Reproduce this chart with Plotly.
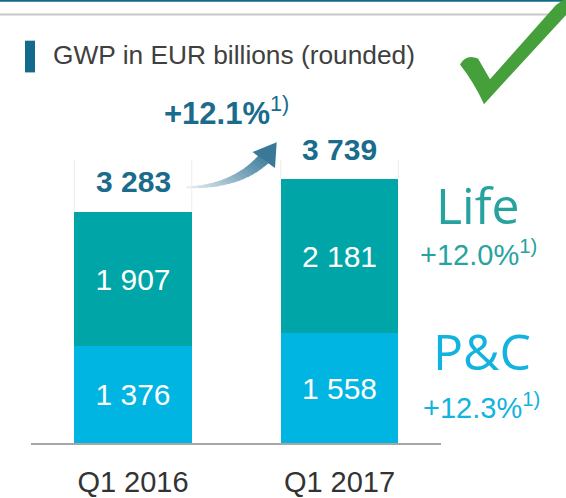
import plotly.graph_objects as go

# ---------------- data ----------------
categories = ["Q1 2016", "Q1 2017"]
series_names = ["P&C", "Life"]
pc_values = [1376, 1558]
life_values = [1907, 2181]
totals = [p + l for p, l in zip(pc_values, life_values)]
growth_total = "+12.1%"
growth_life = "+12.0%"
growth_pc = "+12.3%"
footnote = "1)"
title_text = "GWP in EUR billions (rounded)"

# ---------------- style ----------------
W, H = 566, 498
C_LIFE = "#00a6a7"
C_PC = "#00b5e1"
C_LIFE_TXT = "#27a39f"
C_PC_TXT = "#12b3df"
C_DARK = "#1a6b8c"
C_ACCENT = "#136a8a"
C_TITLE = "#404040"
C_GREEN = "#45a03b"
FONT = "Arial, Liberation Sans, sans-serif"
FONT_LIGHT = "Open Sans, Noto Sans, sans-serif"


def fmt(v):
    return f"{v:,}".replace(",", " ")


def px(x):
    return x / W


def py(y):
    return 1 - y / H


def path(points, close=True):
    s = "M " + " L ".join(f"{px(x):.5f},{py(y):.5f}" for x, y in points)
    return s + (" Z" if close else "")


# pixel geometry of plot area
axis_left, axis_right = 31, 441
cat_px = [133, 339.5]
unit_px = cat_px[1] - cat_px[0]
bar_px = 117.5
base_px = 447
px_per_val = 0.0712

x_range = [(axis_left - cat_px[0]) / unit_px, (axis_right - cat_px[0]) / unit_px]
bar_width = bar_px / unit_px
y_top = base_px / px_per_val

fig = go.Figure()
fig.add_trace(go.Bar(
    x=categories, y=pc_values, name=series_names[0],
    marker=dict(color=C_PC, line=dict(width=0)), width=bar_width,
    texttemplate="%{y:,}", textposition="inside", insidetextanchor="middle",
    textangle=0, textfont=dict(family=FONT, size=30, color="white"),
    hoverinfo="skip",
))
fig.add_trace(go.Bar(
    x=categories, y=life_values, name=series_names[1],
    marker=dict(color=C_LIFE, line=dict(width=0)), width=bar_width,
    texttemplate="%{y:,}", textposition="inside", insidetextanchor="middle",
    textangle=0, textfont=dict(family=FONT, size=30, color="white"),
    hoverinfo="skip",
))

shapes = []
annotations = []


def note(x, y, text, font, xanchor="center", yanchor="middle"):
    annotations.append(dict(x=px(x), y=py(y), xref="paper", yref="paper",
                            text=text, showarrow=False, xanchor=xanchor,
                            yanchor=yanchor, font=font))


# light box outlines above bars
box_top = max(totals) * 1.075
for i, t in enumerate(totals):
    for side in (-1, 1):
        xe = i + side * bar_width / 2
        shapes.append(dict(type="line", xref="x", yref="y", x0=xe, x1=xe,
                           y0=t, y1=box_top, line=dict(color="#ececec", width=1)))

# totals
for i, t in enumerate(totals):
    annotations.append(dict(x=categories[i], y=t, xref="x", yref="y",
                            text=f"<b>{fmt(t)}</b>", showarrow=False,
                            xanchor="center", yanchor="middle", yshift=30,
                            font=dict(family=FONT, size=30, color=C_DARK)))

# header lines
shapes.append(dict(type="line", xref="paper", yref="paper", x0=0, x1=1,
                   y0=py(0.8), y1=py(0.8), line=dict(color=C_ACCENT, width=2)))
shapes.append(dict(type="line", xref="paper", yref="paper", x0=0, x1=1,
                   y0=py(14.5), y1=py(14.5), line=dict(color="#c8c8c8", width=2)))
# title marker
shapes.append(dict(type="rect", xref="paper", yref="paper", x0=px(25), x1=px(35),
                   y0=py(73), y1=py(41), fillcolor=C_ACCENT, line=dict(width=0)))
note(51, 55, title_text, dict(family=FONT, size=26.3, color=C_TITLE), xanchor="left")

# total growth
note(162, 112, f"<b>{growth_total}</b><sup>{footnote}</sup>",
     dict(family=FONT, size=31, color=C_DARK), xanchor="left")

# series labels at right
note(477.5, 206.5, series_names[1], dict(family=FONT_LIGHT, size=50, color=C_LIFE_TXT))
note(478.5, 255, f"{growth_life}<sup>{footnote}</sup>",
     dict(family=FONT, size=29, color=C_LIFE_TXT))
note(481.5, 354, series_names[0].replace("&", "&amp;"),
     dict(family=FONT_LIGHT, size=50, color=C_PC_TXT))
note(481.5, 409, f"{growth_pc}<sup>{footnote}</sup>",
     dict(family=FONT, size=29, color=C_PC_TXT))


# curved gradient arrow
def bez(p0, c, p2, t):
    return ((1 - t) ** 2 * p0[0] + 2 * (1 - t) * t * c[0] + t ** 2 * p2[0],
            (1 - t) ** 2 * p0[1] + 2 * (1 - t) * t * c[1] + t ** 2 * p2[1])


up = ((186.7, 188.0), (232, 186), (258.5, 156.8))
lo = ((186.7, 189.8), (240, 191), (268.5, 164.5))
c0 = (232, 238, 242)
c1 = (72, 132, 162)
N = 16
for k in range(N):
    t0, t1 = k / N, (k + 1) / N
    pts = [bez(*up, t0), bez(*up, min(1, t1 + 0.01)),
           bez(*lo, min(1, t1 + 0.01)), bez(*lo, t0)]
    tm = (t0 + t1) / 2
    col = "rgb(%d,%d,%d)" % tuple(round(a + (b - a) * tm) for a, b in zip(c0, c1))
    shapes.append(dict(type="path", xref="paper", yref="paper", path=path(pts),
                       fillcolor=col, line=dict(width=0)))
shapes.append(dict(type="path", xref="paper", yref="paper",
                   path=path([(252.5, 153.3), (276.7, 143.3), (275, 169.3)]),
                   fillcolor="rgb(58,120,152)", line=dict(width=0)))

# green check mark
check = ("M {a} Q {b} {c} L {d} L {e} L {f} L {g} L {h} Q {i} {a} Z").format(
    a=f"{px(460):.5f},{py(65):.5f}",
    b=f"{px(466):.5f},{py(54):.5f}",
    c=f"{px(478):.5f},{py(59):.5f}",
    d=f"{px(490):.5f},{py(80):.5f}",
    e=f"{px(556):.5f},{py(5):.5f}",
    f=f"{px(566):.5f},{py(-2):.5f}",
    g=f"{px(566):.5f},{py(15):.5f}",
    h=f"{px(484):.5f},{py(105):.5f}",
    i=f"{px(474):.5f},{py(83):.5f}",
)
shapes.append(dict(type="path", xref="paper", yref="paper", path=check,
                   fillcolor=C_GREEN, line=dict(width=0)))

fig.update_layout(
    width=W, height=H, autosize=False,
    margin=dict(l=0, r=0, t=0, b=0),
    paper_bgcolor="white", plot_bgcolor="white",
    barmode="stack", bargap=0, showlegend=False,
    separators=". ",
    shapes=shapes, annotations=annotations,
    xaxis=dict(domain=[px(axis_left), px(axis_right)], range=x_range,
               type="category", showline=True, linecolor="#a6a6a6", linewidth=2,
               ticks="", showgrid=False, zeroline=False, fixedrange=True,
               ticklabelstandoff=12,
               tickfont=dict(family=FONT, size=29, color="#333333")),
    yaxis=dict(domain=[(H - base_px) / H, 1], range=[0, y_top], visible=False,
               fixedrange=True),
)

fig.write_html(
    "out.html",
    config={"displayModeBar": False},
    post_script="document.body.style.margin='0px';document.body.style.overflow='hidden';",
)
